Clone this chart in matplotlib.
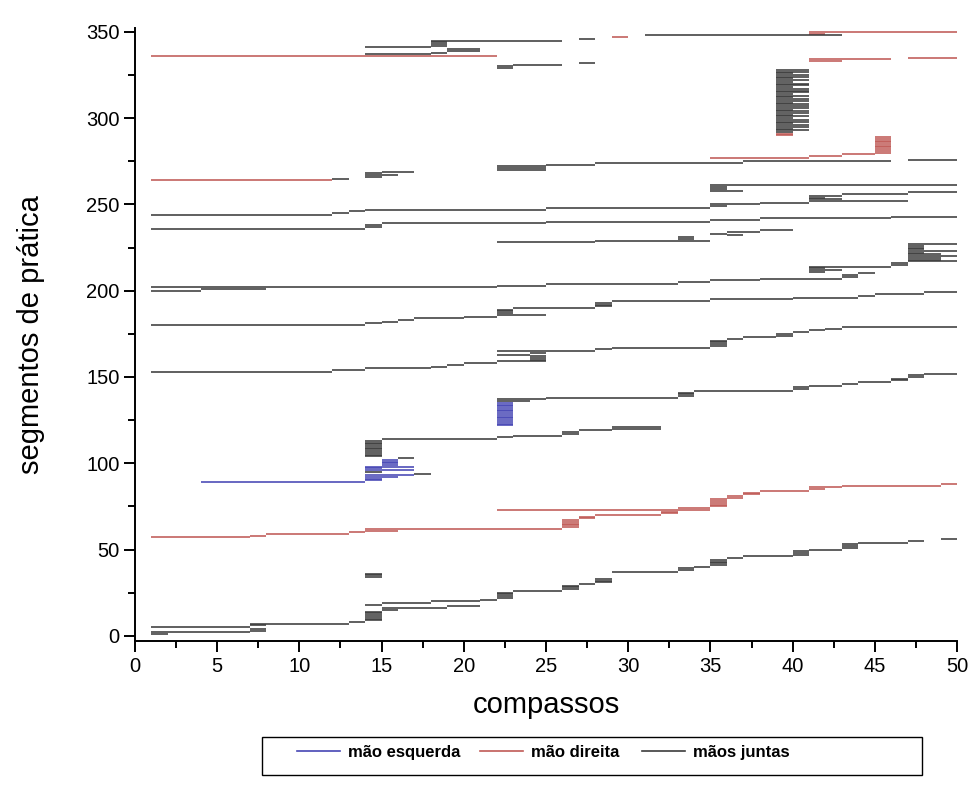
import matplotlib
matplotlib.use("Agg")
import matplotlib.pyplot as plt
from matplotlib.lines import Line2D
from matplotlib.patches import Rectangle
from matplotlib.ticker import MultipleLocator
import numpy as np

plt.rcParams['font.family'] = ['Liberation Sans', 'DejaVu Sans']

# practice segments: (first segment, last segment, start measure, end measure)
# consecutive segments repeating the same measures are grouped in one row
left_hand = [
    (89, 89, 4, 14), (90, 91, 14, 15), (92, 92, 14, 16), (93, 93, 14, 17),
    (96, 96, 14, 17), (97, 97, 14, 15), (98, 98, 14, 17), (99, 102, 15, 16),
    (122, 135, 22, 23),
]

right_hand = [
    (57, 57, 1, 7), (58, 58, 7, 8), (59, 59, 8, 13), (60, 60, 13, 14),
    (61, 61, 14, 16), (62, 62, 14, 26), (63, 67, 26, 27), (68, 69, 27, 28),
    (70, 70, 28, 32), (71, 72, 32, 33), (73, 73, 22, 35), (74, 74, 33, 35),
    (75, 79, 35, 36), (80, 81, 36, 37), (82, 83, 37, 38), (84, 84, 38, 41),
    (85, 85, 41, 42), (86, 86, 41, 43), (87, 87, 43, 49), (88, 88, 49, 50),
    (264, 264, 1, 12), (277, 277, 35, 41), (278, 278, 41, 43), (279, 279, 43, 45),
    (280, 289, 45, 46), (290, 291, 39, 40), (333, 333, 41, 43), (334, 334, 41, 46),
    (335, 335, 47, 50), (336, 336, 1, 22), (347, 347, 29, 30), (349, 349, 41, 42),
    (350, 350, 41, 50),
]

both_hands = [
    (1, 1, 1, 2), (2, 2, 1, 7), (3, 4, 7, 8), (5, 5, 1, 7), (6, 6, 7, 8),
    (7, 7, 7, 13), (8, 8, 13, 14), (9, 14, 14, 15), (15, 15, 15, 16),
    (16, 16, 15, 19), (17, 17, 19, 21), (18, 18, 14, 15), (19, 19, 15, 18),
    (20, 20, 18, 21), (21, 21, 21, 22), (22, 25, 22, 23), (26, 26, 23, 26),
    (27, 29, 26, 27), (30, 30, 27, 28), (31, 33, 28, 29), (34, 36, 14, 15),
    (37, 37, 29, 33), (38, 39, 33, 34), (40, 40, 34, 35), (41, 44, 35, 36),
    (45, 45, 36, 37), (46, 46, 37, 40), (47, 49, 40, 41), (50, 50, 41, 43),
    (51, 53, 43, 44), (54, 54, 44, 47), (55, 55, 47, 48), (56, 56, 49, 50),
    (94, 94, 17, 18), (95, 95, 14, 15), (103, 103, 16, 17), (104, 113, 14, 15),
    (114, 114, 15, 22), (115, 115, 22, 23), (116, 116, 23, 26), (117, 118, 26, 27),
    (119, 119, 27, 29), (120, 121, 29, 32), (136, 136, 22, 24), (137, 137, 22, 25),
    (138, 138, 25, 33), (139, 141, 33, 34), (142, 142, 34, 40), (143, 144, 40, 41),
    (145, 145, 41, 43), (146, 146, 43, 44), (147, 147, 44, 46), (148, 149, 46, 47),
    (150, 151, 47, 48), (152, 152, 48, 50), (153, 153, 1, 12), (154, 154, 12, 14),
    (155, 155, 14, 18), (156, 156, 18, 19), (157, 157, 19, 20), (158, 158, 20, 22),
    (159, 159, 22, 25), (160, 162, 24, 25), (163, 163, 22, 24), (164, 164, 24, 25),
    (165, 165, 22, 28), (166, 166, 28, 29), (167, 167, 29, 35), (168, 171, 35, 36),
    (172, 172, 36, 37), (173, 173, 37, 39), (174, 175, 39, 40), (176, 176, 40, 41),
    (177, 177, 41, 42), (178, 178, 42, 43), (179, 179, 43, 50), (180, 180, 1, 14),
    (181, 181, 14, 15), (182, 182, 15, 16), (183, 183, 16, 17), (184, 184, 17, 20),
    (185, 185, 20, 22), (186, 186, 22, 25), (187, 189, 22, 23), (190, 190, 23, 28),
    (191, 193, 28, 29), (194, 194, 29, 35), (195, 195, 35, 40), (196, 196, 40, 44),
    (197, 197, 44, 45), (198, 198, 45, 48), (199, 199, 48, 50), (200, 200, 1, 4),
    (201, 201, 4, 8), (202, 202, 1, 22), (203, 203, 22, 25), (204, 204, 25, 33),
    (205, 205, 33, 35), (206, 206, 35, 38), (207, 207, 38, 43), (208, 209, 43, 44),
    (210, 210, 44, 45), (211, 211, 41, 42), (212, 212, 41, 43), (213, 213, 41, 42),
    (214, 214, 41, 46), (215, 216, 46, 47), (217, 217, 47, 50), (218, 219, 47, 49),
    (220, 220, 47, 50), (221, 221, 47, 49), (222, 222, 47, 48), (223, 223, 47, 50),
    (224, 226, 47, 48), (227, 227, 47, 50), (228, 228, 22, 28), (229, 229, 28, 35),
    (230, 231, 33, 34), (232, 232, 36, 37), (233, 233, 35, 36), (234, 234, 36, 38),
    (235, 235, 38, 40), (236, 236, 1, 14), (237, 238, 14, 15), (239, 239, 15, 25),
    (240, 240, 25, 35), (241, 241, 35, 38), (242, 242, 38, 46), (243, 243, 46, 50),
    (244, 244, 1, 12), (245, 245, 12, 13), (246, 246, 13, 14), (247, 247, 14, 25),
    (248, 248, 25, 35), (249, 249, 35, 36), (250, 250, 35, 38), (251, 251, 38, 41),
    (252, 252, 41, 47), (253, 253, 41, 43), (254, 254, 41, 42), (255, 255, 41, 43),
    (256, 256, 43, 47), (257, 257, 47, 50), (258, 258, 35, 37), (259, 260, 35, 36),
    (261, 261, 35, 50), (265, 265, 12, 13), (266, 266, 14, 15), (267, 267, 14, 16),
    (268, 268, 14, 15), (269, 269, 15, 17), (270, 272, 22, 25), (273, 273, 25, 28),
    (274, 274, 28, 37), (275, 275, 37, 46), (276, 276, 47, 50),
    (292, 292, 39, 40), (293, 293, 39, 41), (294, 294, 39, 40), (295, 296, 39, 41),
    (297, 297, 39, 40), (298, 299, 39, 41), (300, 300, 39, 40), (301, 301, 39, 41),
    (302, 302, 39, 40), (303, 304, 39, 41), (305, 305, 39, 40), (306, 308, 39, 41),
    (309, 309, 39, 40), (310, 311, 39, 41), (312, 312, 39, 40), (313, 313, 39, 41),
    (314, 314, 39, 40), (315, 317, 39, 41), (318, 318, 39, 40), (319, 320, 39, 41),
    (321, 321, 39, 40), (322, 322, 39, 41), (323, 323, 39, 40), (324, 325, 39, 41),
    (326, 326, 39, 40), (327, 328, 39, 41),
    (329, 330, 22, 23), (331, 331, 23, 26), (332, 332, 27, 28), (337, 337, 14, 18),
    (338, 338, 18, 19), (339, 340, 19, 21), (341, 341, 14, 18), (342, 344, 18, 19),
    (345, 345, 18, 26), (346, 346, 27, 28), (348, 348, 31, 43),
]

hand_labels = ['mão esquerda', 'mão direita', 'mãos juntas']
hand_colors = ['#4646b4', '#c05a56', '#3c3c3c']


def expand(rows):
    ys, x0, x1 = [], [], []
    for first, last, start, end in rows:
        for seg in range(first, last + 1):
            ys.append(seg)
            x0.append(start)
            x1.append(end)
    return np.array(ys), np.array(x0), np.array(x1)


W, H = 971, 790
fig = plt.figure(figsize=(W / 100, H / 100), dpi=100)
ax = fig.add_axes([0.139, 0.188, 0.8466, 0.776])

for rows, color in zip([left_hand, right_hand, both_hands], hand_colors):
    ys, x0, x1 = expand(rows)
    ax.hlines(ys, x0, x1, colors=color, linewidth=1.15)

ax.set_xlim(0, 50)
ax.set_ylim(-3.3, 352)
ax.xaxis.set_major_locator(MultipleLocator(5))
ax.xaxis.set_minor_locator(MultipleLocator(2.5))
ax.yaxis.set_major_locator(MultipleLocator(50))
ax.yaxis.set_minor_locator(MultipleLocator(25))
ax.spines['top'].set_visible(False)
ax.spines['right'].set_visible(False)
for side in ['left', 'bottom']:
    ax.spines[side].set_linewidth(1.4)
ax.tick_params(which='major', direction='out', length=8, width=1.4, labelsize=14.5, pad=3)
ax.tick_params(which='minor', direction='out', length=5, width=1.4)

ax.set_xlabel('compassos', fontsize=21, labelpad=11)
ax.set_ylabel('segmentos de prática', fontsize=21, labelpad=30)

# legend: a framed strip under the axes, entries share one baseline
fig.patches.append(Rectangle((262 / W, 15 / H), 660 / W, 38 / H,
                             transform=fig.transFigure, fill=False,
                             edgecolor='black', linewidth=1.0))
key_left = [297, 480, 642]
key_y = 1 - 751 / H
for x, label, color in zip(key_left, hand_labels, hand_colors):
    fig.add_artist(Line2D([x / W, (x + 43) / W], [key_y, key_y],
                          transform=fig.transFigure, color=color, linewidth=1.2))
    fig.text((x + 51) / W, key_y, label, fontsize=12, fontweight='bold',
             va='center_baseline', ha='left')

fig.savefig('out.png', dpi=100)
